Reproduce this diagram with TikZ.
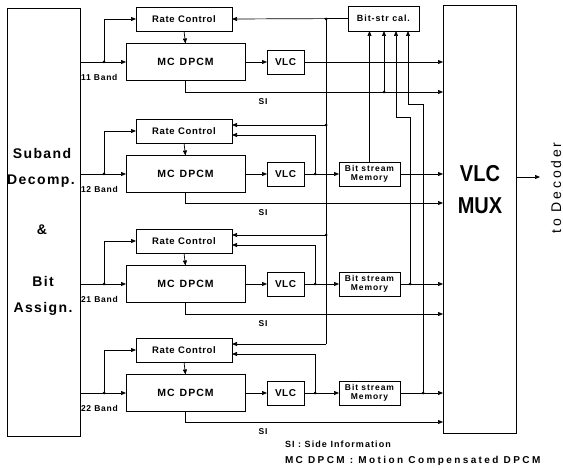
\documentclass[tikz,border=0pt]{standalone}
\usepackage{fontspec}
\setmainfont{Liberation Sans}
\usetikzlibrary{arrows.meta}
\newcommand\myfnt[3]{\fontsize{#1}{#2}\selectfont\bfseries\addfontfeature{LetterSpace=#3}}
\tikzset{
  every node/.style={inner sep=0pt, outer sep=0pt},
  box/.style={draw, line width=0.7pt},
  wire/.style={line width=0.7pt},
  arr/.style={wire, -{Triangle[length=5pt,width=4pt]}},
  lab/.style={font=\myfnt{8.5}{10}{9}},
  rcb/.style={box, minimum width=96, minimum height=24, font=\myfnt{9.5}{11}{7}},
  mcb/.style={box, minimum width=119, minimum height=37, font=\myfnt{10.5}{12}{10}},
  vlcb/.style={box, minimum width=37, minimum height=24, font=\myfnt{10}{12}{5}},
  memb/.style={box, minimum width=61, minimum height=24, align=center, font=\myfnt{8.5}{9.5}{11}},
  bscb/.style={box, minimum width=71, minimum height=25, font=\myfnt{9}{11}{10}},
  band/.style={anchor=west, font=\myfnt{8.5}{10}{9}},
  big/.style={font=\myfnt{14}{16}{10}},
}
\begin{document}
\begin{tikzpicture}[x=1pt,y=-1pt]
\useasboundingbox (0,0) rectangle (563,468);
% main boxes
\node[box, minimum width=73, minimum height=428] (L) at (43.5,222) {};
\node[box, minimum width=73, minimum height=428] (mux) at (479.5,219) {};
\node[bscb] (bsc) at (383.5,18.5) {Bit-str cal.};
% left text
\node[big] (t1) at (42,153) {Suband};
\node[big] (t2) at (41,181) {Decomp.};
\node[big] (t3) at (42,230) {\&};
\node[big] (t4) at (43,281) {Bit};
\node[big] (t5) at (43,309) {Assign.};
% mux text
\node[xscale=0.87, align=center, font=\fontsize{23}{32}\selectfont\bfseries] (muxt) at (480,190) {VLC\\MUX};
% rows common
\foreach \r/\yc/\ym/\ys in {11/19/62/92, 12/131/174/203, 21/241/284/314, 22/350/393/422}{
  \node[rcb] (rc\r) at (184,\yc) {Rate Control};
  \node[mcb] (mc\r) at (185.5,\ym) {MC\hspace{5pt}DPCM};
  \node[vlcb] (vlc\r) at (285.5,\ym) {VLC};
  \coordinate (in\r) at (80,\ym);
  \coordinate (j\r) at (104,\ym);
  \draw[arr] (in\r) -- (mc\r.west);
  \fill (j\r) circle (1.5);
  \draw[arr] (j\r) |- (rc\r.west);
  \draw[arr] (rc\r.south) -- (mc\r.north);
  \draw[arr] (mc\r.east) -- (vlc\r.west);
  \coordinate (si\r) at (443,\ys);
  \draw[arr] (mc\r.south) |- (si\r);
  \node[lab] (sil\r) at (263,\ys+10) {SI};
  \node[band] (bl\r) at (81,\ym+15) {\r\ Band};
}
% row 11 specifics
\coordinate (o11) at (443,62);
\draw[arr] (vlc11.east) -- (o11);
\draw[arr] (bsc.west) -- (rc11.east);
% rows with memory
\foreach \r/\yc/\ym in {12/131/174, 21/241/284, 22/350/393}{
  \node[memb] (mem\r) at (369.5,\ym) {Bit stream\\Memory};
  \coordinate (k\r) at (315,\ym);
  \draw[arr] (vlc\r.east) -- (mem\r.west);
  \fill (k\r) circle (1.5);
  \coordinate (rcl\r) at (232,\yc+4);
  \draw[arr] (k\r) |- (rcl\r);
  \coordinate (rcu\r) at (232,\yc-6);
  \coordinate (bu\r) at (326,\yc-6);
  \draw[arr] (bu\r) -- (rcu\r);
  \coordinate (mo\r) at (443,\ym);
  \draw[arr] (mem\r.east) -- (mo\r);
}
% bus from bit-str cal
\coordinate (bus0) at (326,19);
\draw[wire] (bus0) -- (bu22);
\fill (bus0) circle (1.5);
\fill (bu12) circle (1.5);
\fill (bu21) circle (1.5);
% lines up to bit-str cal
\coordinate (d11) at (384,92);
\fill (d11) circle (1.5);
\draw[arr] (d11) -- (d11 |- bsc.south);
\draw[arr] (mem12.north) -- (mem12.north |- bsc.south);
\coordinate (d21) at (410,284);
\coordinate (c21a) at (410,117);
\coordinate (c21b) at (396,117);
\fill (d21) circle (1.5);
\draw[arr] (d21) -- (c21a) -- (c21b) -- (c21b |- bsc.south);
\coordinate (d22) at (423,393);
\coordinate (c22a) at (423,104);
\coordinate (c22b) at (408,104);
\fill (d22) circle (1.5);
\draw[arr] (d22) -- (c22a) -- (c22b) -- (c22b |- bsc.south);
% output
\coordinate (out1) at (516,177);
\coordinate (out2) at (540,177);
\draw[arr] (out1) -- (out2);
\node[rotate=90, font=\fontsize{14}{16}\selectfont\addfontfeature{LetterSpace=20}] (dec) at (556,188) {to Decoder};
% legend
\node[anchor=west, font=\myfnt{9}{11}{12}] (leg1) at (285,444) {SI : Side Information};
\node[anchor=west, font=\myfnt{10}{12}{24}] (leg2) at (285,461) {MC DPCM : Motion Compensated DPCM};
\end{tikzpicture}
\end{document}
